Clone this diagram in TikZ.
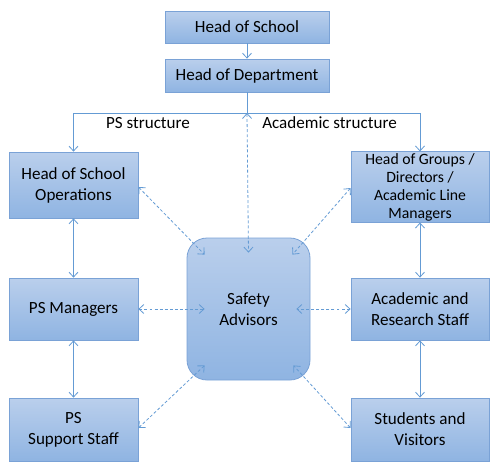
\documentclass[tikz,border=0pt]{standalone}
\usepackage{fontspec}
\setmainfont{Carlito}
\usepackage{tikz}
\usetikzlibrary{arrows.meta,calc}

\definecolor{boxtop}{RGB}{186,207,236}
\definecolor{boxbot}{RGB}{143,180,226}
\definecolor{boxline}{RGB}{122,162,214}
\definecolor{linkblue}{RGB}{100,155,212}

\begin{document}
\begin{tikzpicture}[x=0.75pt, y=-0.75pt, >={Straight Barb[length=1.3mm,width=2.4mm]},
  box/.style={draw=boxline, line width=0.6pt, top color=boxtop, bottom color=boxbot, align=center,
    inner sep=1pt, font=\fontsize{12.8}{15.75}\selectfont},
  advisor/.style={box, rounded corners=15pt, minimum width=92.25pt, minimum height=106.5pt},
  link/.style={draw=linkblue, line width=0.6pt},
  dlink/.style={link, dash pattern=on 2.2pt off 1.6pt, <->},
  lbl/.style={font=\fontsize{12.8}{15}\selectfont}]
\useasboundingbox (0,0) rectangle (500,472);
% top of the tree
\node[box, minimum width=123pt, minimum height=24pt] (hos) at (247,27) {Head of School};
\node[box, minimum width=123pt, minimum height=24.75pt] (hod) at (247,75.5) {Head of Department};
% left column: PS structure
\node[box, minimum width=96.75pt, minimum height=49.5pt] (hoso) at (73.5,185) {Head of School\\Operations};
\node[box, minimum width=96.75pt, minimum height=46.5pt] (psm) at (73.5,309) {PS Managers};
\node[box, minimum width=96.75pt, minimum height=47.25pt] (pss) at (73.5,429.5) {PS\\Support Staff};
% right column: academic structure
\node[box, minimum width=103.5pt, minimum height=52.5pt, font=\fontsize{11.8}{13.5}\selectfont] (hog) at (420,187) {Head of Groups /\\Directors /\\Academic Line\\Managers};
\node[box, minimum width=103.5pt, minimum height=46.5pt] (ars) at (420,309) {Academic and\\Research Staff};
\node[box, minimum width=103.5pt, minimum height=47.25pt] (sv) at (420,429.5) {Students and\\Visitors};
% centre
\node[advisor] (sa) at (248.5,309) {Safety\\Advisors};
\node[lbl] (pslbl) at (148,123) {PS structure};
\node[lbl] (aclbl) at (329.5,123) {Academic structure};
% solid links
\coordinate (split) at (247,113);
\draw[link,->] (hos) -- (hod);
\draw[link] (hod.south) -- (split);
\draw[link,->] (split) -| (hoso.north);
\draw[link,->] (split) -| (hog.north);
\draw[link,<->] (hoso) -- (psm);
\draw[link,<->] (psm) -- (pss);
\draw[link,<->] (hog) -- (ars);
\draw[link,<->] (ars) -- (sv);
% dashed links to the safety advisors
\draw[dlink] (split) -- ($(sa.north)+(0,15)$);
\draw[dlink] ($(hoso.east)+(0,2)$) -- ($(sa.north west)+(18,17)$);
\draw[dlink] ($(hog.west)+(0,1)$) -- ($(sa.north east)+(-18,17)$);
\draw[dlink] (psm.east) -- ($(sa.west)+(18,0)$);
\draw[dlink] (ars.west) -- ($(sa.east)+(-14,0)$);
\draw[dlink] ($(pss.east)+(0,-1.5)$) -- ($(sa.south west)+(18,-15)$);
\draw[dlink] ($(sv.west)+(0,-1.5)$) -- ($(sa.south east)+(-17,-15)$);
\end{tikzpicture}
\end{document}
